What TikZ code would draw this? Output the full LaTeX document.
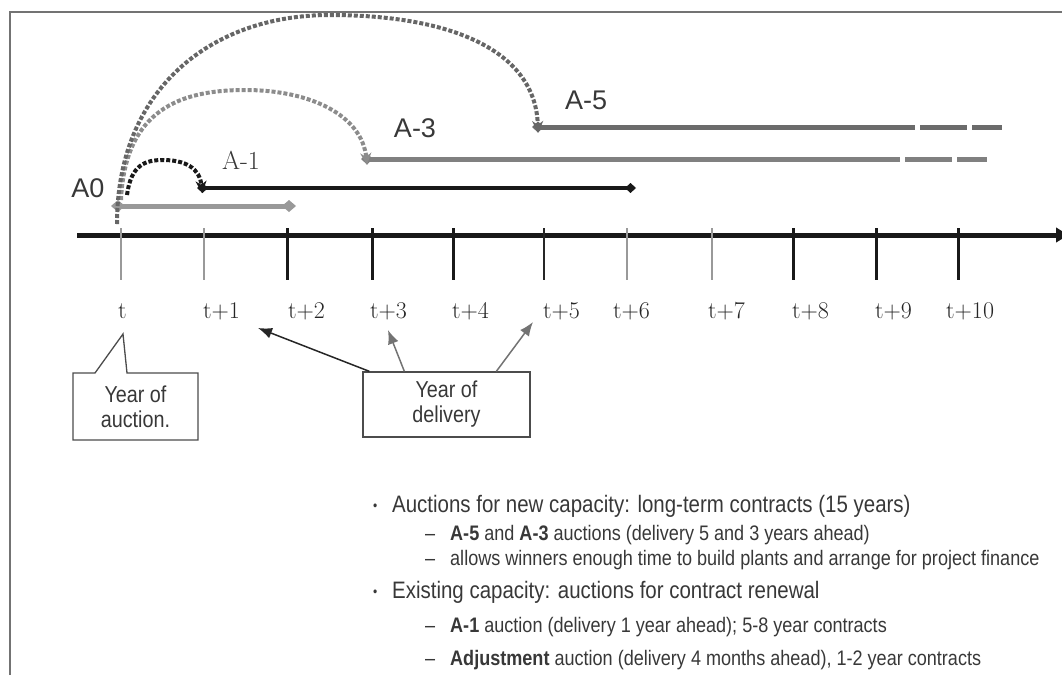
\documentclass[tikz,border=0pt]{standalone}
\usepackage{fontspec}
\newfontfamily\narrowsf[FakeStretch=0.86]{Liberation Sans}
\newfontfamily\labelsf{Liberation Sans}
\usetikzlibrary{arrows.meta}
\definecolor{framegray}{gray}{0.45}
\definecolor{lightbar}{gray}{0.60}
\definecolor{midbar}{gray}{0.50}
\definecolor{darkbar}{gray}{0.42}
\definecolor{textgray}{gray}{0.22}
\begin{document}
\begin{tikzpicture}[x=1pt,y=-1pt,
    bar/.style={line width=5pt},
    arcline/.style={line width=4pt, dash pattern=on 4pt off 2pt},
    bigtick/.style={line width=3pt, black!90},
    thintick/.style={line width=1.5pt, black!40},
    midtick/.style={line width=1.5pt, black!85},
    yearlbl/.style={font=\fontsize{24}{24}\selectfont, anchor=base west, inner sep=0pt, text=black!85},
    auclbl/.style={font=\labelsf\fontsize{27}{27}\selectfont, text=textgray},
    notetext/.style={align=center, font=\narrowsf\fontsize{23}{25}\selectfont, text=textgray},
    notebox/.style={notetext, draw=black!70, line width=1.3pt, fill=white},
    mainitem/.style={anchor=base west, inner sep=0pt, font=\narrowsf\fontsize{23.8}{26}\selectfont, text=textgray},
    subitem/.style={anchor=base west, inner sep=0pt, font=\narrowsf\fontsize{21}{23}\selectfont, text=textgray}]
    \useasboundingbox (0,0) rectangle (1062,675);
    \clip (0,0) rectangle (1062,675);

    % frame
    \draw [framegray, line width=2pt] (10,675) -- (10,12) -- (1062,12);

    % time axis
    \draw [line width=5pt, black!90, -{Latex[length=16pt,width=16pt]}] (77,235) -- (1072,235);
    \foreach \x/\s in {121/thintick, 204/thintick, 287/bigtick, 372/bigtick, 453/bigtick,
                       544/midtick, 627/thintick, 712/thintick, 793/bigtick, 876/bigtick, 958/bigtick} {
        \draw [\s] (\x,228) -- (\x,280);
    }
    \foreach \x/\n/\lbl in {118/0/t, 203/1/t+1, 288/2/t+2, 370/3/t+3, 452/4/t+4, 543/5/t+5,
                            613/6/t+6, 708/7/t+7, 792/8/t+8, 875/9/t+9, 946/10/t+10} {
        \node [yearlbl] (t\n) at (\x,318) {\lbl};
    }

    % auction labels
    \node [auclbl] (a0) at (88,188) {A0};
    \node [font=\fontsize{26}{26}\selectfont, text=textgray] (a1) at (241,160) {A-1};
    \node [auclbl] (a3) at (415,128) {A-3};
    \node [auclbl] (a5) at (586,100) {A-5};

    % delivery periods
    \coordinate (s0) at (111,206);
    \coordinate (s1) at (202,188);
    \coordinate (s3) at (367,159);
    \coordinate (s5) at (538,127);
    \draw [bar, lightbar, {Diamond[length=14pt,width=12pt]}-{Diamond[length=14pt,width=12pt]}] (s0) -- (296,206);
    \draw [line width=3.5pt, black!90, {Diamond[length=11pt,width=10pt]}-{Diamond[length=11pt,width=10pt]}] ([xshift=-5pt]s1) -- (636,188);
    \draw [bar, midbar, {Diamond[length=12pt,width=11pt]}-] ([xshift=-6pt]s3) -- (900,159);
    \draw [bar, midbar] (905,159) -- (952,159) (957,159) -- (987,159);
    \draw [bar, darkbar, {Diamond[length=12pt,width=11pt]}-] ([xshift=-6pt]s5) -- (915,127);
    \draw [bar, darkbar] (920,127) -- (967,127) (972,127) -- (1002,127);

    % jumps from the auction year
    \draw [arcline, black!90, -{Stealth[length=12pt,width=11pt]}] (127,195) .. controls (131,165) and (145,160) .. (163,160) .. controls (185,160) and (200,168) .. ([yshift=-5pt]s1);
    \draw [arcline, black!45, -{Stealth[length=12pt,width=11pt]}] (121,200) .. controls (125,110) and (180,90) .. (245,90) .. controls (310,90) and (362,115) .. ([yshift=-6pt]s3);
    \draw [arcline, black!60, -{Stealth[length=12pt,width=11pt]}] (117,224) .. controls (117,90) and (210,15) .. (330,15) .. controls (450,15) and (536,50) .. ([yshift=-6pt]s5);

    % callouts
    \draw [black!70, line width=1.3pt, fill=white] (73,373) -- (95,373) -- (123,334) -- (127,373)
        -- (198,373) -- (198,440) -- (73,440) -- cycle;
    \node [notetext] (auc) at (135.5,407) {Year of\\auction.};
    \node [notebox, minimum width=167pt, minimum height=65pt] (del) at (446.5,404.5) {Year of\\delivery};
    \coordinate (d1) at (258,328);
    \coordinate (d3) at (388,330);
    \coordinate (d5) at (533,322);
    \draw [line width=1.5pt, black!85, -{Latex[length=14pt,width=11pt]}] ([xshift=7pt]del.north west) -- (d1);
    \draw [line width=1.5pt, black!55, -{Latex[length=14pt,width=11pt]}] ([xshift=42pt]del.north west) -- (d3);
    \draw [line width=1.5pt, black!55, -{Latex[length=14pt,width=11pt]}] ([xshift=134pt]del.north west) -- (d5);

    % notes
    \node [mainitem, font=\narrowsf\fontsize{14}{14}\selectfont] (b1) at (373,510) {•};
    \node [mainitem] (m1) at (392,512) {Auctions for new capacity: long-term contracts (15 years)};
    \node [subitem] (e1) at (425,540) {–};
    \node [subitem] (n1) at (450,540) {\textbf{A-5} and \textbf{A-3} auctions (delivery 5 and 3 years ahead)};
    \node [subitem] (e2) at (425,565) {–};
    \node [subitem] (n2) at (450,565) {allows winners enough time to build plants and arrange for project finance};
    \node [mainitem, font=\narrowsf\fontsize{14}{14}\selectfont] (b2) at (373,596) {•};
    \node [mainitem] (m2) at (392,598) {Existing capacity: auctions for contract renewal};
    \node [subitem] (e3) at (425,632) {–};
    \node [subitem] (n3) at (450,632) {\textbf{A-1} auction (delivery 1 year ahead); 5-8 year contracts};
    \node [subitem] (e4) at (425,665) {–};
    \node [subitem] (n4) at (450,665) {\textbf{Adjustment} auction (delivery 4 months ahead), 1-2 year contracts};
\end{tikzpicture}
\end{document}
